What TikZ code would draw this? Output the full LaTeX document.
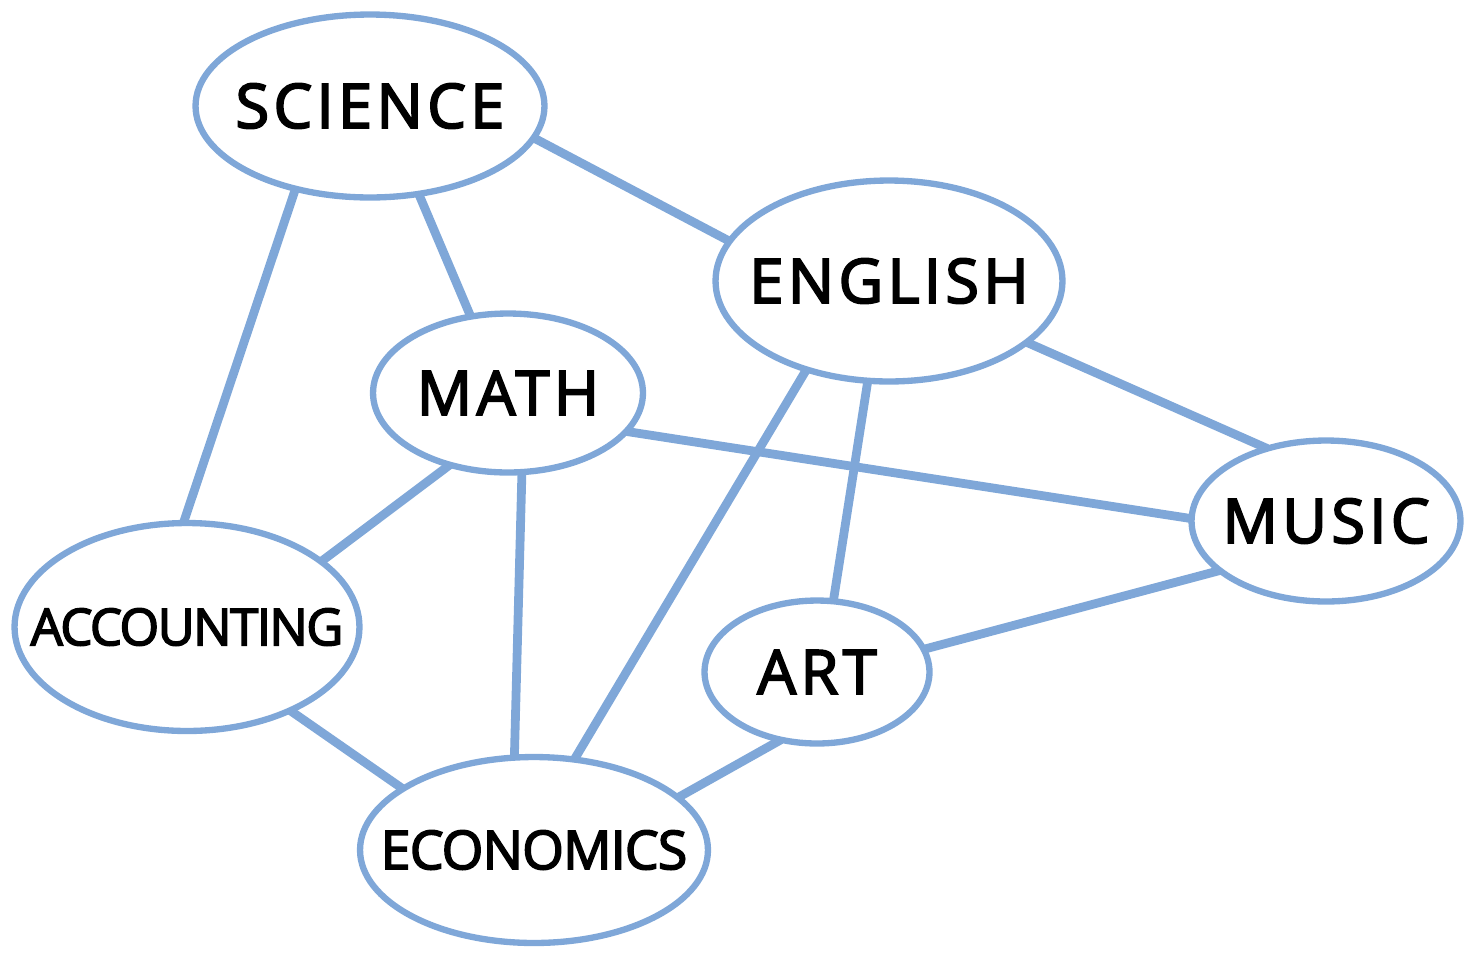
\documentclass[tikz,border=0pt]{standalone}
\usepackage{fontspec}
\setmainfont{Open Sans}[FakeBold=3]
\newfontfamily\wideface{Open Sans}[LetterSpace=7, FakeBold=3]
\newfontfamily\accountface{Open Sans}[LetterSpace=-3, FakeBold=3]
\newfontfamily\econface{Open Sans}[LetterSpace=-1.5, FakeBold=3]
\usetikzlibrary{shapes.geometric, backgrounds}
\definecolor{linkblue}{RGB}{127,167,216}
\newcommand{\subj}[1]{\makebox[0pt]{#1}}

\begin{document}
\begin{tikzpicture}[x=0.02cm, y=-0.02cm,
		subject/.style={ellipse, draw=linkblue, line width=3.6pt, fill=white, inner sep=0pt, outer sep=0pt},
		wide/.style={font=\wideface\fontsize{35}{40}\selectfont},
		link/.style={draw=linkblue, line width=5pt}]
		\useasboundingbox (0,0) rectangle (1474,958);
		
		\node [subject, wide, minimum width=6.98cm, minimum height=3.66cm] (science) at (370,106) {\subj{SCIENCE}};
		\node [subject, wide, minimum width=6.94cm, minimum height=4.02cm] (english) at (889,281) {\subj{ENGLISH}};
		\node [subject, wide, minimum width=5.4cm, minimum height=3.18cm] (math) at (508,393) {\subj{MATH}};
		\node [subject, wide, minimum width=5.38cm, minimum height=3.22cm] (music) at (1326,521) {\subj{MUSIC}};
		\node [subject, font=\accountface\fontsize{29}{34}\selectfont, minimum width=6.9cm, minimum height=4.16cm] (accounting) at (187,627) {\subj{ACCOUNTING}};
		\node [subject, wide, minimum width=4.5cm, minimum height=2.86cm] (art) at (817,672) {\subj{ART}};
		\node [subject, font=\econface\fontsize{30.5}{36}\selectfont, minimum width=6.96cm, minimum height=3.72cm] (economics) at (534,850) {\subj{ECONOMICS}};
		
		\begin{scope}[on background layer]
			\draw [link] (science.-11) -- (english.166);
			\draw [link] (science.-61) -- (math.116);
			\draw [link] (science.228) -- (accounting.92);
			\draw [link] (english.-24) -- (music.129);
			\draw [link] (english.227) -- (economics.66);
			\draw [link] (english.258) -- (art.77);
			\draw [link] (math.-18) -- (music.179);
			\draw [link] (math.231) -- (accounting.26);
			\draw [link] (math.280) -- (economics.102);
			\draw [link] (music.205) -- (art.12);
			\draw [link] (accounting.-39) -- (economics.155);
			\draw [link] (art.242) -- (economics.20);
		\end{scope}
	\end{tikzpicture}
\end{document}
